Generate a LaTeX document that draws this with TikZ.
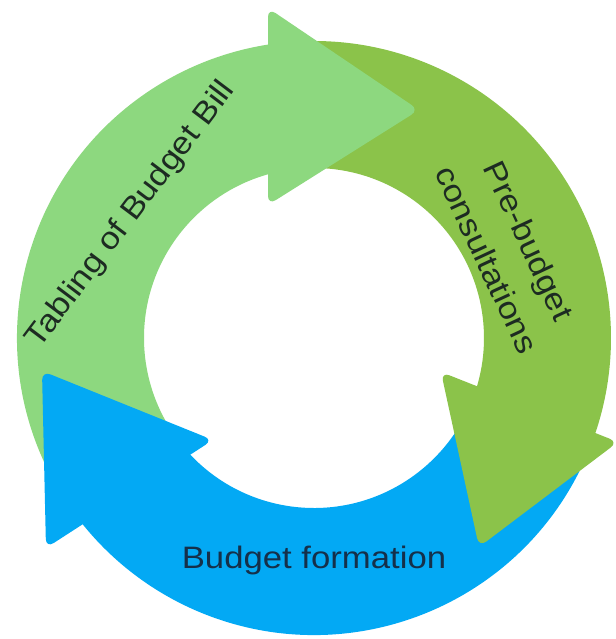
\documentclass[tikz,border=0pt]{standalone}
\usepackage{fontspec}
\newfontfamily\labfont{Liberation Sans}[FakeStretch=1.12]
\definecolor{lgreen}{HTML}{8DD87F}
\definecolor{mgreen}{HTML}{8BC34A}
\definecolor{lblue}{HTML}{03A9F4}
\definecolor{txtdark}{HTML}{1D2B22}
\definecolor{txtblue}{HTML}{15304A}
\begin{document}
\begin{tikzpicture}[x=1pt,y=1pt,
  headshape/.style={rounded corners=9pt},
  lab/.style={font=\labfont\fontsize{31}{46}\selectfont, align=center, inner sep=0pt}]
\useasboundingbox (-314,-301) rectangle (301,338);
\clip (-314,-301) rectangle (301,338);
% ring bodies
\fill[lgreen] (212:297) arc[start angle=212,end angle=95,radius=297]
  -- (95:170) arc[start angle=95,end angle=212,radius=170] -- cycle;
\fill[mgreen] (93:297) arc[start angle=93,end angle=-21,radius=297]
  -- (-21:170) arc[start angle=-21,end angle=93,radius=170] -- cycle;
\fill[lblue] (-23:297) arc[start angle=-23,end angle=-144,radius=297]
  -- (-144:170) arc[start angle=-144,end angle=-23,radius=170] -- cycle;
% arrow heads
\fill[lgreen, headshape] (-46,330) -- (105,228) -- (-46,133) -- cycle;
\fill[mgreen, headshape] (127,-34) -- (304,-104) -- (165,-209) -- cycle;
\fill[lblue, headshape] (-272,-33) -- (-101,-102) -- (-268,-210) -- cycle;
% labels
\node[lab, text=txtdark, rotate=53] (tabling) at (-183,123) {Tabling of Budget Bill};
\node[lab, text=txtdark, rotate=-65] (prebudget) at (194,88) {Pre-budget\\consultations};
\node[lab, text=txtblue, anchor=base] (formation) at (0,-230) {Budget formation};
\end{tikzpicture}
\end{document}
